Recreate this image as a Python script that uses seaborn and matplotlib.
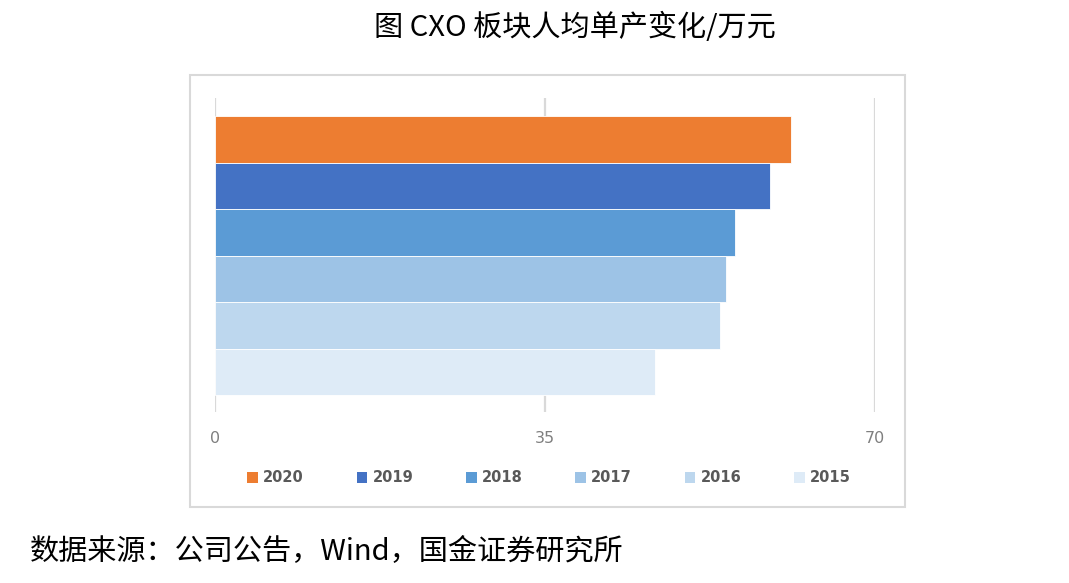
import seaborn as sns
import pandas as pd
import matplotlib
matplotlib.use("Agg")
from matplotlib import pyplot as plt
from matplotlib.patches import Rectangle

# data (万元 per person)
years = ['2020', '2019', '2018', '2017', '2016', '2015']
values = [61.1, 58.9, 55.1, 54.2, 53.6, 46.7]
colors = ['#ED7D31', '#4472C4', '#5B9BD5', '#9DC3E6', '#BDD7EE', '#DEEBF7']
xticks = [0, 35, 70]

title = '图 CXO 板块人均单产变化/万元'
source = '数据来源：公司公告，Wind，国金证券研究所'

sns.set_theme(style='white')
plt.rcParams['font.family'] = ['Noto Sans CJK SC', 'DejaVu Sans']

df = pd.DataFrame({'cat': ['CXO'] * len(years), 'year': years, 'value': values})

W, H = 1069, 583
fig = plt.figure(figsize=(W / 100, H / 100), dpi=100)

# plot area in pixel coords
left, right, top, bottom = 215, 875, 98, 412
ax = fig.add_axes([left / W, 1 - bottom / H, (right - left) / W, (bottom - top) / H])

sns.barplot(data=df, x='value', y='cat', hue='year', hue_order=years,
            palette=colors, saturation=1, orient='h', width=0.8, ax=ax,
            edgecolor='white', linewidth=0.6, legend=False)

ax.set_xlim(0, 70)
ax.set_ylim(0.448, -0.452)
ax.set_xticks(xticks)
ax.set_xticklabels([str(t) for t in xticks], color='#7f7f7f', fontsize=11.5,
                   family=['DejaVu Sans'])
ax.set_yticks([])
ax.set_xlabel('')
ax.set_ylabel('')
ax.tick_params(axis='x', length=0, pad=14)
for s in ax.spines.values():
    s.set_visible(False)
for t in xticks:
    ax.axvline(t, color='#d9d9d9', lw=1.6, zorder=0)

# outer chart frame
fig.patches.append(Rectangle((190 / W, 1 - 507 / H), 715 / W, 432 / H,
                             transform=fig.transFigure, fill=False,
                             edgecolor='#d9d9d9', lw=1.5))

handles = [Rectangle((0, 0), 1, 1, facecolor=c, edgecolor='none') for c in colors]
leg = fig.legend(handles, years, loc='center', bbox_to_anchor=(549 / W, 1 - 478 / H),
                 ncol=6, frameon=False, handlelength=0.75, handleheight=0.85,
                 handletextpad=0.35, columnspacing=3.6,
                 prop={'size': 10.5, 'weight': 'bold', 'family': 'DejaVu Sans'})
for txt in leg.get_texts():
    txt.set_color('#595959')

fig.text(575 / W, 1 - 28 / H, title, ha='center', va='center', fontsize=21,
         color='black')
fig.text(30 / W, 1 - 552 / H, source, ha='left', va='center', fontsize=21,
         color='black')

fig.savefig('out.png', dpi=100)
